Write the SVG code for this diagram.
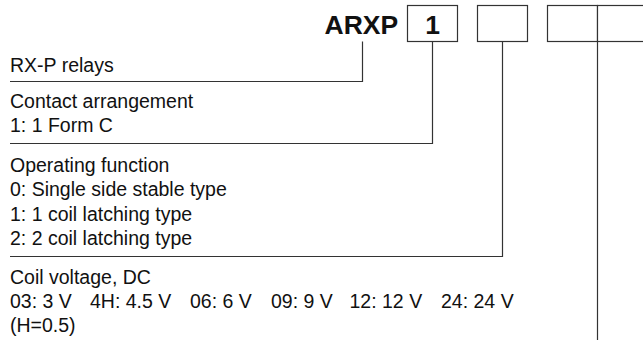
<svg xmlns="http://www.w3.org/2000/svg" width="643" height="341" viewBox="0 0 643 341">
<style>
.t{font-family:"Liberation Sans",Arial,sans-serif;font-size:19.5px;fill:#111}
.b{font-family:"Liberation Sans",Arial,sans-serif;font-weight:bold;font-size:26.5px;fill:#111}
.box{fill:#fff;stroke:#333;stroke-width:1.2}
.ln{fill:none;stroke:#333;stroke-width:1.2}
</style>
<rect width="643" height="341" fill="#fff"/>
<g id="code">
<text class="b" x="324.5" y="34">ARXP</text>
<g id="box1"><rect class="box" x="407.5" y="5.5" width="50" height="36"/><text class="b" x="432.5" y="34" text-anchor="middle">1</text></g>
<g id="box2"><rect class="box" x="477.5" y="5.5" width="50" height="36"/></g>
<g id="box3"><rect class="box" x="547.5" y="5.5" width="50" height="36"/></g>
<g id="box4"><rect class="box" x="597.5" y="5.5" width="50" height="36"/></g>
</g>
<g id="connectors">
<path class="ln" d="M362.5 41.5V81.5H10"/>
<path class="ln" d="M432.5 41.5V143.5H10"/>
<path class="ln" d="M502.5 41.5V256.5H10"/>
<path class="ln" d="M597.5 41.5V340"/>
</g>
<g id="series"><text class="t" x="10" y="72">RX-P relays</text></g>
<g id="contact">
<text class="t" x="10" y="108">Contact arrangement</text>
<text class="t" x="10" y="132">1: 1 Form C</text>
</g>
<g id="function">
<text class="t" x="10" y="171.5">Operating function</text>
<text class="t" x="10" y="196">0: Single side stable type</text>
<text class="t" x="10" y="220.5">1: 1 coil latching type</text>
<text class="t" x="10" y="245">2: 2 coil latching type</text>
</g>
<g id="voltage">
<text class="t" x="10" y="283.5">Coil voltage, DC</text>
<text class="t" y="307.5"><tspan x="10">03: 3 V</tspan><tspan x="90">4H: 4.5 V</tspan><tspan x="190">06: 6 V</tspan><tspan x="271">09: 9 V</tspan><tspan x="349.5">12: 12 V</tspan><tspan x="441">24: 24 V</tspan></text>
<text class="t" x="10" y="331.5">(H=0.5)</text>
</g>
</svg>
